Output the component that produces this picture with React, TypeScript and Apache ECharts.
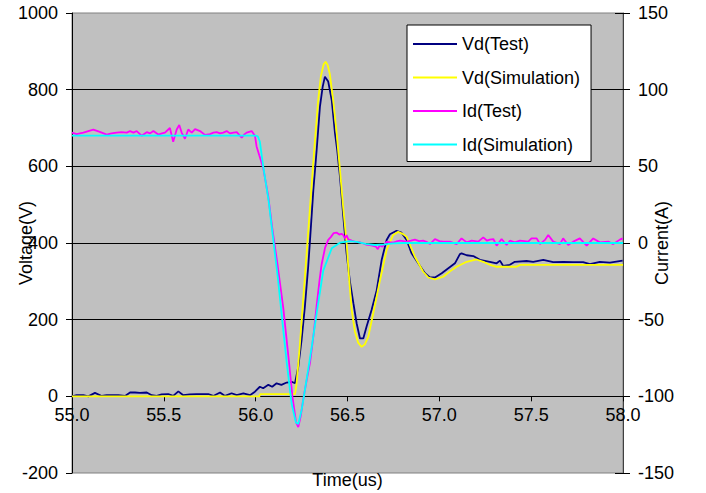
import React, { useEffect, useRef } from "react";
import * as echarts from "echarts";

const FONT = "'Liberation Sans', Arial, sans-serif";

const seriesNames = ["Vd(Test)", "Vd(Simulation)", "Id(Test)", "Id(Simulation)"];
const seriesColors = ["#000080", "#FFFF00", "#FF00FF", "#00FFFF"];

// Vd(Test): time (us), voltage (V)
const vdTestT = [55.0, 55.025, 55.062, 55.089, 55.125, 55.162, 55.189, 55.252, 55.289, 55.316, 55.343, 55.37, 55.407, 55.434, 55.461, 55.488, 55.524, 55.551, 55.579, 55.606, 55.642, 55.679, 55.742, 55.769, 55.806, 55.833, 55.869, 55.897, 55.933, 55.969, 55.996, 56.023, 56.041, 56.069, 56.09, 56.114, 56.14, 56.169, 56.196, 56.214, 56.232, 56.25, 56.268, 56.286, 56.296, 56.314, 56.332, 56.35, 56.365, 56.377, 56.395, 56.414, 56.432, 56.444, 56.459, 56.477, 56.495, 56.513, 56.532, 56.55, 56.568, 56.586, 56.604, 56.631, 56.659, 56.686, 56.713, 56.731, 56.767, 56.794, 56.822, 56.849, 56.885, 56.922, 56.949, 56.976, 57.013, 57.049, 57.085, 57.112, 57.121, 57.149, 57.185, 57.221, 57.275, 57.312, 57.33, 57.348, 57.384, 57.411, 57.475, 57.511, 57.566, 57.62, 57.674, 57.729, 57.783, 57.82, 57.874, 57.929, 57.998];
const vdTestV = [0, 3, 3, 0, 9, 1, 3, 3, 1, 10, 10, 9, 10, 3, 1, 5, 6, 1, 13, 3, 5, 6, 6, 1, 10, 1, 8, 3, 8, 3, 12, 25, 21, 30, 25, 34, 30, 36, 38, 34, 77, 147, 234, 338, 408, 538, 642, 756, 808, 834, 821, 773, 686, 642, 573, 470, 373, 300, 243, 190, 151, 151, 182, 225, 277, 356, 408, 423, 432, 427, 408, 373, 347, 321, 310, 310, 321, 334, 347, 371, 373, 368, 366, 356, 351, 347, 354, 340, 343, 351, 353, 351, 356, 350, 351, 350, 350, 345, 351, 349, 354];

// Vd(Simulation)
const vdSimT = [55.0, 56.02, 56.025, 56.214, 56.222, 56.24, 56.26, 56.28, 56.3, 56.32, 56.34, 56.355, 56.37, 56.381, 56.392, 56.404, 56.422, 56.441, 56.459, 56.477, 56.495, 56.51, 56.523, 56.54, 56.558, 56.577, 56.595, 56.613, 56.64, 56.677, 56.713, 56.749, 56.776, 56.8, 56.822, 56.867, 56.912, 56.94, 56.976, 57.021, 57.058, 57.094, 57.149, 57.203, 57.239, 57.28, 57.312, 57.42, 57.44, 58.0];
const vdSimV = [0, 0, 6, 6, 30, 130, 260, 390, 520, 650, 770, 835, 866, 873, 864, 840, 773, 686, 590, 490, 400, 300, 225, 170, 140, 129, 136, 155, 216, 303, 382, 421, 429, 424, 416, 364, 325, 310, 305, 312, 326, 338, 351, 357, 351, 342, 338, 338, 343, 343];

// Id(Test): time (us), current (A)
const idTestT = [55.0, 55.025, 55.062, 55.089, 55.116, 55.14, 55.162, 55.189, 55.215, 55.243, 55.27, 55.298, 55.316, 55.335, 55.352, 55.379, 55.407, 55.425, 55.443, 55.47, 55.49, 55.506, 55.533, 55.551, 55.57, 55.584, 55.597, 55.615, 55.633, 55.652, 55.67, 55.697, 55.724, 55.751, 55.77, 55.788, 55.806, 55.824, 55.842, 55.86, 55.88, 55.897, 55.924, 55.94, 55.951, 55.978, 55.996, 56.005, 56.02, 56.041, 56.069, 56.09, 56.12, 56.15, 56.18, 56.2, 56.22, 56.232, 56.245, 56.259, 56.28, 56.296, 56.315, 56.332, 56.348, 56.359, 56.378, 56.395, 56.41, 56.425, 56.44, 56.455, 56.467, 56.477, 56.486, 56.495, 56.504, 56.523, 56.54, 56.568, 56.6, 56.63, 56.655, 56.665, 56.675, 56.69, 56.713, 56.73, 56.749, 56.766, 56.786, 56.822, 56.845, 56.867, 56.89, 56.912, 56.93, 56.949, 56.976, 57.0, 57.021, 57.058, 57.094, 57.121, 57.149, 57.176, 57.212, 57.239, 57.26, 57.275, 57.294, 57.312, 57.339, 57.366, 57.384, 57.411, 57.439, 57.484, 57.502, 57.53, 57.548, 57.575, 57.593, 57.62, 57.657, 57.674, 57.702, 57.729, 57.765, 57.802, 57.838, 57.874, 57.92, 57.947, 57.983, 57.998];
const idTestI = [72, 71, 72, 73, 74, 73, 72, 70.7, 71.5, 72, 72.3, 72, 73, 72, 73, 70, 72.3, 71.5, 73, 70.7, 71.5, 72, 75, 66, 74, 77, 72, 68, 74, 72, 74.3, 73, 70.5, 71, 72, 72.3, 71.5, 72, 73, 71.5, 72, 72.3, 68.7, 71, 72, 73, 70, 63, 57, 49, 30, 10, -15, -42, -76, -100, -117, -120, -113, -102, -88, -78, -60, -41, -24, -14, -3, 2, 4, 6.5, 6.8, 5.5, 6, 5.2, 3, 5.2, 2.4, 1.5, 0.8, 0.5, -1, -1.5, -2.4, -4, -1.5, -2.4, 0.8, 0.5, 0.2, 1, 1.5, 0.9, 1.5, 2.2, 1.2, 1.5, 0.8, -0.7, 2.6, 1.2, 0.9, 0.9, -0.7, 3.0, 0.4, 1.5, 0.9, 3.7, 1.5, 2.2, 2.6, -1.7, 2.6, -1.3, 1.5, 0.4, 1.5, 0.9, 3.0, 3.0, -0.7, 2, 5.2, 0.9, -0.7, 3.0, -1.3, 0.9, 3.0, -1.7, 3.0, 0.4, 0.9, -0.7, 2.2, 3.0];

// Id(Simulation)
const idSimT = [55.0, 56.0, 56.012, 56.023, 56.041, 56.07, 56.093, 56.12, 56.141, 56.169, 56.196, 56.219, 56.232, 56.25, 56.268, 56.305, 56.332, 56.368, 56.414, 56.459, 56.513, 56.55, 56.6, 56.65, 56.7, 56.75, 56.8, 58.0];
const idSimI = [70, 70, 69.5, 66, 50, 28, 5, -22, -46, -78, -105, -117, -118, -109, -96, -68, -46, -18, -3.5, 0.2, 1.2, 0.8, -0.6, -1.3, -0.9, -0.3, 0, 0];

const zip = (t: number[], v: number[]) => t.map((x, i) => [x, v[i]]);

// plot geometry: voltage -200..1000 over 460 px; the time axis sits on 0 V
const PLOT_H = 460;
const X_AXIS_OFFSET = -(PLOT_H * 200) / 1200;

export default function App() {
  const ref = useRef<HTMLDivElement>(null);
  useEffect(() => {
    const chart = echarts.init(ref.current!, null, { renderer: "svg" });
    const axisText = { fontSize: 18, color: "#000", fontFamily: FONT };
    const dataSets = [
      { data: zip(vdTestT, vdTestV), yAxisIndex: 0 },
      { data: zip(vdSimT, vdSimV), yAxisIndex: 0 },
      { data: zip(idTestT, idTestI), yAxisIndex: 1 },
      { data: zip(idSimT, idSimI), yAxisIndex: 1 },
    ];
    chart.setOption({
      animation: false,
      textStyle: { fontFamily: FONT, color: "#000" },
      grid: {
        left: 72,
        right: 83,
        top: 13,
        bottom: 20,
        containLabel: false,
        outerBoundsMode: "none",
        show: true,
        backgroundColor: "#C0C0C0",
        borderColor: "#808080",
        borderWidth: 1,
      },
      legend: {
        orient: "vertical",
        left: 407,
        top: 25,
        backgroundColor: "#fff",
        borderColor: "#000",
        borderWidth: 1,
        borderRadius: 0,
        padding: [8, 11, 6, 6],
        itemGap: 11.5,
        itemWidth: 44,
        itemHeight: 2,
        icon: "rect",
        textStyle: { fontSize: 18, color: "#000", fontFamily: FONT, lineHeight: 22 },
        data: seriesNames,
      },
      xAxis: {
        type: "value",
        position: "bottom",
        offset: X_AXIS_OFFSET,
        min: 55,
        max: 58,
        interval: 0.5,
        axisLine: { show: true, onZero: false, lineStyle: { color: "#000", width: 1 } },
        axisTick: { show: true, length: 5, lineStyle: { color: "#000" } },
        axisLabel: { ...axisText, margin: 10, formatter: (v: number) => v.toFixed(1) },
        splitLine: { show: false },
        name: "Time(us)",
        nameLocation: "middle",
        nameGap: 75,
        nameMoveOverlap: false,
        nameTextStyle: axisText,
      },
      yAxis: [
        {
          type: "value",
          position: "left",
          min: -200,
          max: 1000,
          interval: 200,
          axisLine: { show: true, lineStyle: { color: "#000", width: 1 } },
          axisTick: { show: true, length: 6, lineStyle: { color: "#000" } },
          axisLabel: { ...axisText, margin: 14, formatter: (v: number) => String(v) },
          splitLine: { show: true, showMinLine: false, showMaxLine: false, lineStyle: { color: "#000", width: 1 } },
          name: "Voltage(V)",
          nameLocation: "middle",
          nameRotate: 90,
          nameGap: 37,
          nameMoveOverlap: false,
          nameTextStyle: axisText,
        },
        {
          type: "value",
          position: "right",
          min: -150,
          max: 150,
          interval: 50,
          axisLine: { show: true, lineStyle: { color: "#404040", width: 1 } },
          axisTick: { show: true, length: 7, lineStyle: { color: "#000" } },
          axisLabel: { ...axisText, margin: 15, formatter: (v: number) => String(v) },
          splitLine: { show: false },
          name: "Current(A)",
          nameLocation: "middle",
          nameRotate: 90,
          nameGap: 30,
          nameMoveOverlap: false,
          nameTextStyle: axisText,
        },
        {
          type: "value",
          position: "right",
          min: -150,
          max: 150,
          interval: 50,
          axisLine: { show: false },
          axisTick: { show: true, inside: true, length: 8, lineStyle: { color: "#000" } },
          axisLabel: { show: false },
          splitLine: { show: false },
        },
      ],
      series: dataSets.map((s, i) => ({
        name: seriesNames[i],
        type: "line",
        yAxisIndex: s.yAxisIndex,
        data: s.data,
        showSymbol: false,
        symbol: "none",
        color: seriesColors[i],
        lineStyle: { color: seriesColors[i], width: 1.8 },
        itemStyle: { color: seriesColors[i] },
        z: 2 + i,
      })),
    });
    return () => chart.dispose();
  }, []);
  return (
    <div
      ref={ref}
      style={{ position: "fixed", left: 0, top: 0, width: 706, height: 493, background: "#fff" }}
    />
  );
}
